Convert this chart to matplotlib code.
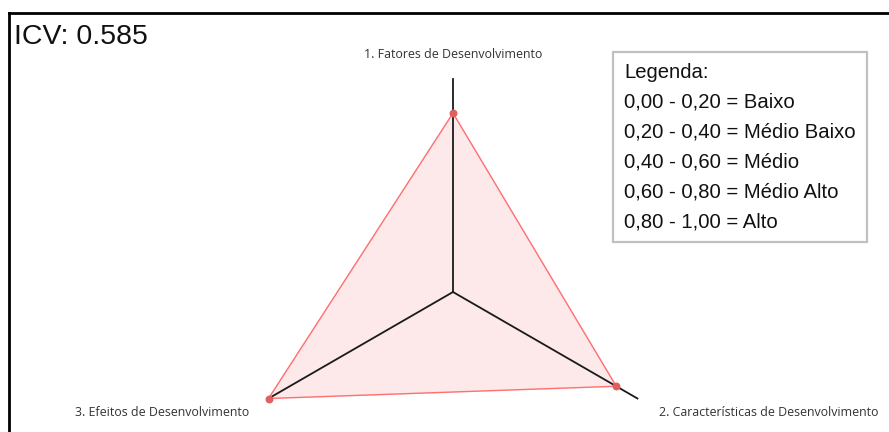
import numpy as np
import matplotlib.pyplot as plt
from matplotlib.patches import Rectangle
from matplotlib.lines import Line2D

# dados do radar
categorias = ["1. Fatores de Desenvolvimento",
              "2. Características de Desenvolvimento",
              "3. Efeitos de Desenvolvimento"]
valores = [0.84, 0.885, 1.0]
icv = 0.585

legenda_titulo = "Legenda:"
legenda_itens = ["0,00 - 0,20 = Baixo",
                 "0,20 - 0,40 = Médio Baixo",
                 "0,40 - 0,60 = Médio",
                 "0,60 - 0,80 = Médio Alto",
                 "0,80 - 1,00 = Alto"]

W, H = 889, 432
fig = plt.figure(figsize=(W / 100, H / 100), dpi=100)
fig.patch.set_facecolor("white")

# eixo polar: centro em (453, 292) px, raio 213 px
cx, cy, R = 453, H - 292, 213
ax = fig.add_axes([(cx - R) / W, (cy - R) / H, 2 * R / W, 2 * R / H],
                  projection="polar")
ax.set_theta_offset(np.pi / 2)
ax.set_theta_direction(-1)
ax.set_ylim(0, 1)
ax.grid(False)
ax.set_xticks([])
ax.set_yticks([])
ax.spines["polar"].set_visible(False)
ax.patch.set_alpha(0)

ang = np.arange(len(categorias)) * 2 * np.pi / len(categorias)
ang_f = np.concatenate([ang, ang[:1]])
val_f = np.concatenate([valores, valores[:1]])

ax.fill(ang_f, val_f, color="#fde9e9", zorder=1, clip_on=False)
for a in ang:
    ax.plot([a, a], [0, 1], color="#1a1a1a", lw=1.3, zorder=2, clip_on=False)
ax.plot(ang_f, val_f, color="#ff7070", lw=1.0, zorder=3, clip_on=False)
ax.scatter(ang, valores, s=22, color="#e06060", zorder=4, clip_on=False)

# rótulos das categorias
lab_pos = [(453, 55, "center"), (769, 413, "center"), (162, 413, "center")]
for nome, (x, y, ha) in zip(categorias, lab_pos):
    fig.text(x / W, 1 - y / H, nome, ha=ha, va="center", fontsize=8.9,
             family="Open Sans", color="#333333")

# título ICV
fig.text(14 / W, 1 - 37 / H, f"ICV: {icv}", ha="left", va="center",
         fontsize=20.5, family="Liberation Sans", color="#111111")

# moldura
fig.add_artist(Line2D([9 / W, 1.0], [1 - 13 / H, 1 - 13 / H],
                      transform=fig.transFigure, color="black", lw=2))
fig.add_artist(Line2D([9 / W, 9 / W], [1 - 13 / H, 0.0],
                      transform=fig.transFigure, color="black", lw=2))

# caixa da legenda
x0, y0, x1, y1 = 613, 52, 867, 242
fig.add_artist(Rectangle((x0 / W, 1 - y1 / H), (x1 - x0) / W, (y1 - y0) / H,
                         transform=fig.transFigure, facecolor="white",
                         edgecolor="#c0c0c0", lw=1.6))
linhas = [legenda_titulo] + legenda_itens
for i, t in enumerate(linhas):
    fig.text(624 / W, 1 - (72 + 30 * i) / H, t, ha="left", va="center",
             fontsize=14.6, family="Liberation Sans", color="#111111")

fig.savefig("out.png", dpi=100)
